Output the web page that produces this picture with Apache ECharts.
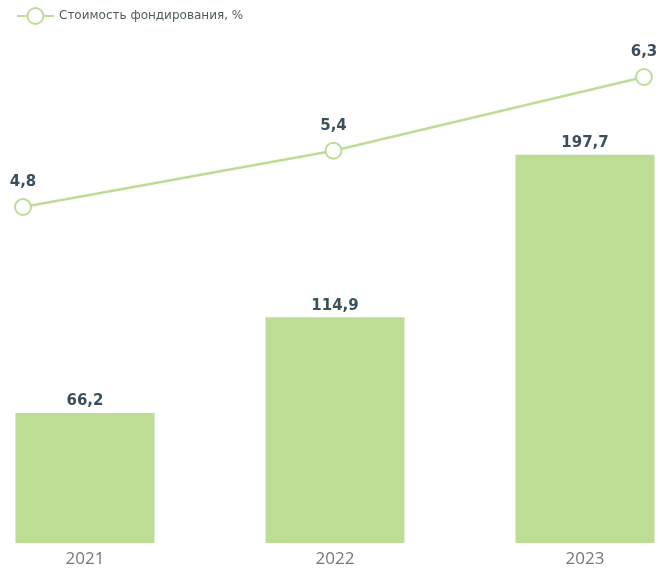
<!DOCTYPE html>
<html>
<head>
<meta charset="utf-8">
<script src="https://cdn.jsdelivr.net/npm/echarts@6/dist/echarts.min.js"></script>
<style>
  html, body { margin: 0; padding: 0; background: #fff; }
  #chart { width: 660px; height: 571px; }
</style>
</head>
<body>
<div id="chart"></div>
<script>
const years = ['2021', '2022', '2023']
const portfolio = [66.2, 114.9, 197.7]
const fundingCost = [4.8, 5.4, 6.3]
const lineName = 'Стоимость фондирования, %'

const green = '#bddc94'
const labelColor = '#3d4f5b'

const fmt = v => String(v).replace('.', ',')

const chart = echarts.init(document.getElementById('chart'))

chart.setOption({
    animation: false,
    legend: {
        left: 11,
        top: 2,
        itemWidth: 37,
        itemHeight: 20,
        itemGap: 10,
        data: [lineName],
        textStyle: { fontFamily: 'DejaVu Sans', fontSize: 12, color: '#4f5b62' },
    },
    grid: [
        // bars, wider than the canvas so the outer bars sit near the edges
        { left: -40, right: -50, top: 52, bottom: 28, outerBoundsMode: 'none', containLabel: false },
        // line
        { left: 23, right: 16, top: 77, bottom: 364, outerBoundsMode: 'none', containLabel: false },
    ],
    xAxis: [
        {
            type: 'category',
            gridIndex: 0,
            data: years,
            axisLine: { show: false },
            axisTick: { show: false },
            axisLabel: { margin: 8, fontFamily: 'Open Sans', fontSize: 17, color: '#777' },
        },
        {
            type: 'category',
            gridIndex: 1,
            data: years,
            boundaryGap: false,
            show: false,
        },
    ],
    yAxis: [
        { type: 'value', gridIndex: 0, min: 0, max: 250, show: false },
        { type: 'log', gridIndex: 1, min: 4.8, max: 6.3, show: false },
    ],
    series: [
        {
            type: 'bar',
            xAxisIndex: 0,
            yAxisIndex: 0,
            data: portfolio,
            barWidth: 139,
            itemStyle: { color: green },
            label: {
                show: true,
                position: 'top',
                distance: 4,
                formatter: p => fmt(p.value),
                fontFamily: 'DejaVu Sans',
                fontWeight: 'bold',
                fontSize: 15,
                color: labelColor,
            },
        },
        {
            name: lineName,
            type: 'line',
            xAxisIndex: 1,
            yAxisIndex: 1,
            data: fundingCost,
            clip: false,
            symbol: 'circle',
            symbolSize: 16,
            lineStyle: { color: green, width: 2.5 },
            itemStyle: { color: '#fff', borderColor: green, borderWidth: 2 },
            label: {
                show: true,
                position: 'top',
                distance: 8,
                formatter: p => fmt(p.value),
                fontFamily: 'DejaVu Sans',
                fontWeight: 'bold',
                fontSize: 15,
                color: labelColor,
            },
        },
    ],
})
</script>
</body>
</html>
